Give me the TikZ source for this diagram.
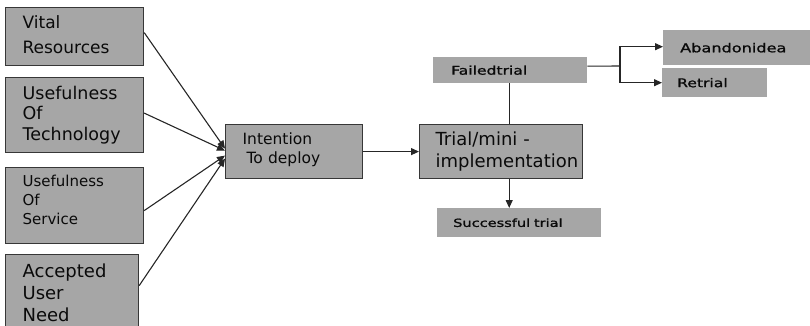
\documentclass[tikz,border=0pt]{standalone}
\usepackage{fontspec}
\setmainfont{DejaVu Sans}
\newfontfamily\widefont{DejaVu Sans}[FakeStretch=1.3,FakeBold=1.2]
\usetikzlibrary{arrows.meta}
\definecolor{boxgray}{RGB}{166,166,166}
\definecolor{edgegray}{RGB}{55,55,55}
\definecolor{txt}{RGB}{10,10,10}
\tikzset{
  base/.style={rectangle, fill=boxgray, anchor=north west, align=left, inner ysep=0pt, text=txt},
  framed/.style={base, draw=edgegray, line width=1.2pt},
  plain/.style={base},
  arr/.style={-{Triangle[length=8pt,width=7pt]}, line width=1.1pt, draw=black!85},
  ln/.style={line width=1.1pt, draw=black!85}
}
\begin{document}
\begin{tikzpicture}[x=1pt,y=-1pt]
\useasboundingbox (0,0) rectangle (810,326);
% left inputs
\node[framed, minimum width=138pt, minimum height=58pt, inner xsep=17pt, text width=104pt,
      font=\fontsize{17}{25}\selectfont] (vital) at (5,7) {Vital\\Resources\\[-21pt]\mbox{}};
\node[framed, minimum width=138pt, minimum height=75pt, inner xsep=17pt, text width=104pt,
      font=\fontsize{17.5}{20.5}\selectfont] (tech) at (5,77) {Usefulness\\Of\\Technology};
\node[framed, minimum width=138pt, minimum height=76pt, inner xsep=17pt, text width=104pt,
      font=\fontsize{15}{19}\selectfont] (service) at (5,167) {Usefulness\\Of\\Service\\[-7pt]\mbox{}};
\node[framed, minimum width=133pt, minimum height=76pt, inner xsep=17pt, text width=99pt,
      font=\fontsize{18}{22}\selectfont] (accepted) at (5,254) {Accepted\\User\\Need};
% middle
\node[framed, minimum width=137pt, minimum height=54pt, inner xsep=17pt, text width=103pt,
      font=\fontsize{15.5}{19}\selectfont] (intent) at (225,124) {Intention\\\hspace*{4pt}To deploy\\[-13pt]\mbox{}};
\node[framed, minimum width=163pt, minimum height=54pt, inner xsep=16pt, text width=131pt,
      font=\fontsize{18}{22}\selectfont] (trial) at (419,124) {Trial/mini -\\\mbox{implementation}};
% outcomes
\node[plain, minimum width=154pt, minimum height=26pt, inner xsep=18pt, text width=118pt,
      font=\widefont\fontsize{12}{14}\selectfont] (failed) at (433,57) {Failedtrial};
\node[plain, minimum width=164pt, minimum height=29pt, inner xsep=16pt, text width=132pt,
      font=\widefont\fontsize{11.2}{13}\selectfont] (success) at (437,208) {Successful trial};
\node[plain, minimum width=152pt, minimum height=35pt, inner xsep=17pt, text width=118pt,
      font=\widefont\fontsize{12.4}{14}\selectfont] (abandon) at (663,30) {Abandonidea};
\node[plain, minimum width=105pt, minimum height=29pt, inner xsep=15pt, text width=75pt,
      font=\widefont\fontsize{12}{14}\selectfont] (retrial) at (662,68) {Retrial};
% connectors
\draw[arr] ([yshift=4pt]vital.east) -- ([yshift=3pt]intent.west);
\draw[arr] ([yshift=2pt]tech.east) -- ([yshift=1pt]intent.west);
\draw[arr] ([yshift=-5pt]service.east) -- ([yshift=-4pt]intent.west);
\draw[arr] ([yshift=7pt]accepted.east) -- ([yshift=-7pt]intent.west);
\draw[arr] (intent.east) -- (trial.west);
\draw[ln] ([xshift=-1pt]failed.south) -- ([xshift=-1pt]trial.north -| failed.south);
\draw[arr] ([xshift=-1pt]trial.south -| failed.south) -- ([xshift=-1pt]success.north -| failed.south);
\coordinate (br) at (620,66);
\draw[ln] ([yshift=4pt]failed.east) -- (br);
\draw[arr] (br) |- ([yshift=1pt]abandon.west);
\draw[arr] (br) |- (retrial.west);
\end{tikzpicture}
\end{document}
